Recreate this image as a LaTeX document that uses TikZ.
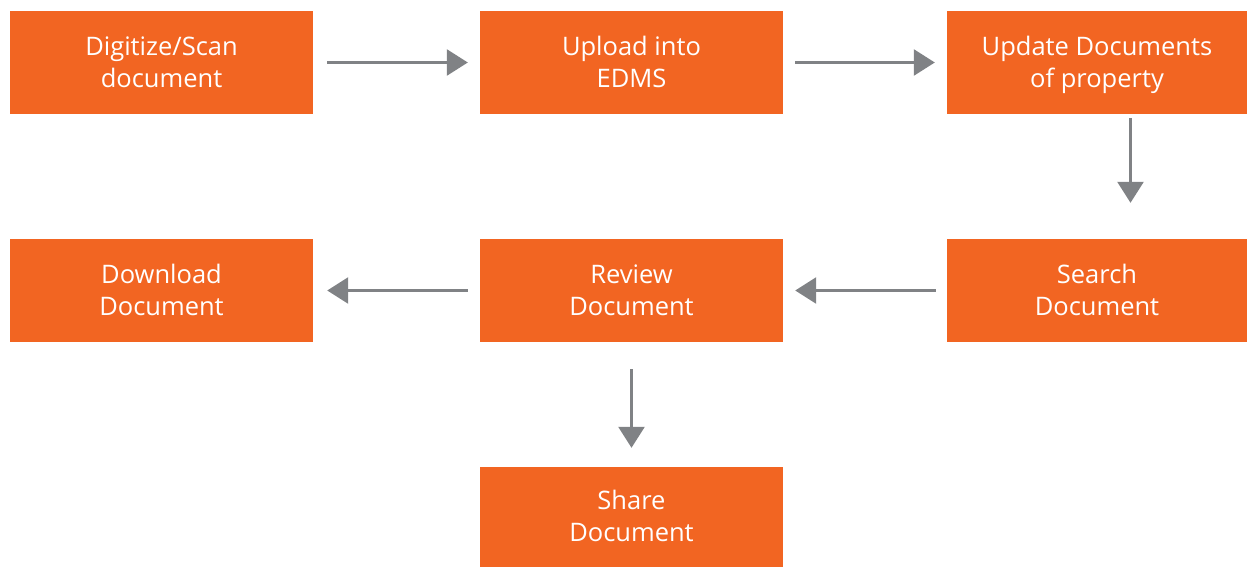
\documentclass[tikz,border=0pt]{standalone}
\usepackage{fontspec}
\setmainfont{Open Sans}
\usetikzlibrary{arrows.meta}
\definecolor{boxorange}{HTML}{F26522}
\definecolor{arrgray}{HTML}{808285}
\newcommand{\twol}[2]{\rule{0pt}{27.4pt}#1\\\strut#2}
\tikzset{
  box/.style={fill=boxorange, draw=none, minimum width=303pt, minimum height=103pt,
    inner sep=0pt, text=white, align=center,
    font=\fontsize{25.5}{32}\selectfont},
  arr/.style={draw=arrgray, line width=2.6pt,
    -{Triangle[length=21pt,width=26pt]}}
}
\begin{document}
\begin{tikzpicture}[x=1pt,y=-1pt]
\useasboundingbox (0,0) rectangle (1247,567);
\node[box] (dig) at (161.5,62.5) {\twol{Digitize/Scan}{document}};
\node[box] (up)  at (631.5,62.5) {\twol{Upload into}{EDMS}};
\node[box, minimum width=300pt] (upd) at (1097,62.5) {\twol{Update Documents}{of property}};
\node[box] (dl)  at (161.5,290.5) {\twol{Download}{Document}};
\node[box] (rev) at (631.5,290.5) {\twol{Review}{Document}};
\node[box, minimum width=300pt] (se) at (1097,290.5) {\twol{Search}{Document}};
\node[box, minimum height=100pt] (sh) at (631.5,517) {\twol{Share}{Document}};
\coordinate (dx) at (1130.5,0);
\draw[arr, shorten <=14pt, shorten >=12pt] (dig.east) -- (up.west);
\draw[arr, shorten <=12pt, shorten >=12pt] (up.east) -- (upd.west);
\draw[arr, shorten <=4pt, shorten >=36pt] (upd.south -| dx) -- (se.north -| dx);
\draw[arr, shorten <=11pt, shorten >=12pt] (se.west) -- (rev.east);
\draw[arr, shorten <=12pt, shorten >=14pt] (rev.west) -- (dl.east);
\draw[arr, shorten <=27pt, shorten >=19pt] (rev.south) -- (sh.north);
\end{tikzpicture}
\end{document}
